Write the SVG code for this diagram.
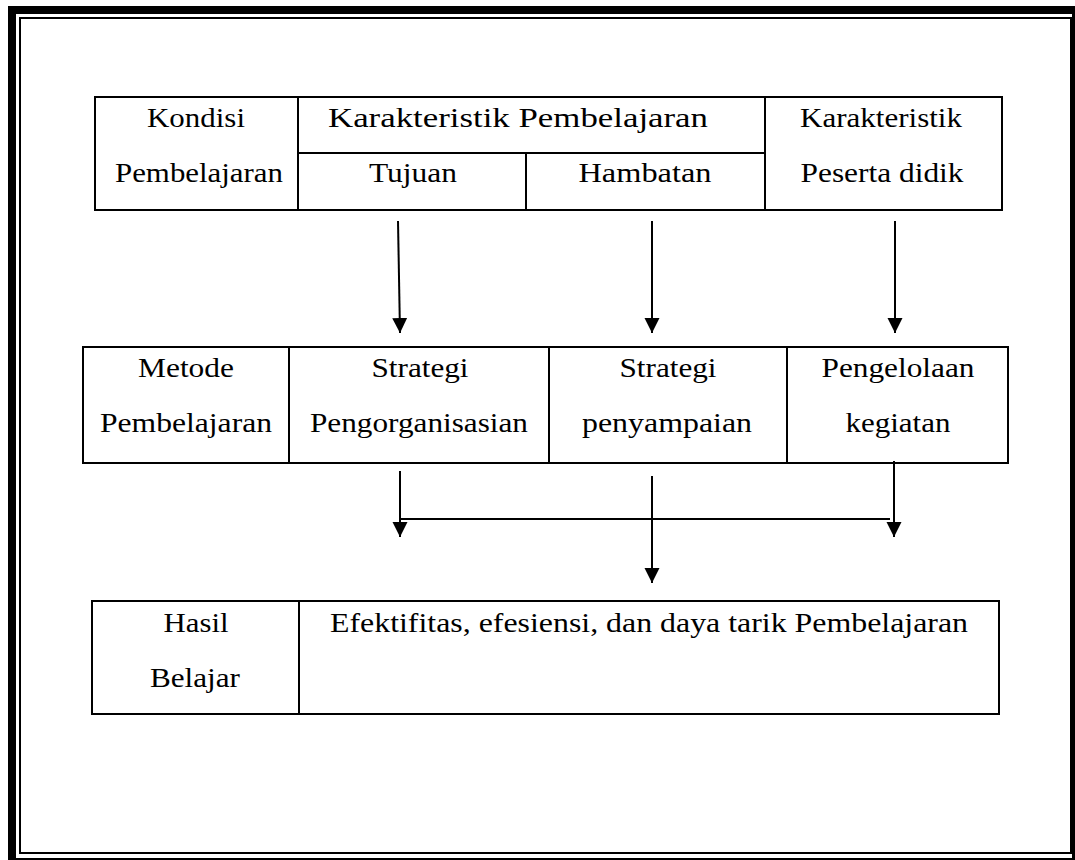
<svg xmlns="http://www.w3.org/2000/svg" width="1075" height="860" viewBox="0 0 1075 860">
<style>
.box{fill:#fff;stroke:#000;stroke-width:2}
.ln{stroke:#000;stroke-width:2;fill:none}
.t{font-family:'Liberation Serif','Times New Roman',serif;font-size:27px;fill:#000;text-anchor:middle}
.conn line{stroke:#000;stroke-width:2;fill:none}
</style>
<defs>
<marker id="ah" markerUnits="userSpaceOnUse" markerWidth="16" markerHeight="16" refX="15" refY="7.5" orient="auto">
<path d="M0,0 L15,7.5 L0,15 z" fill="#000"/>
</marker>
</defs>
<rect width="1075" height="860" fill="#fff"/>
<g id="frame">
<rect x="12" y="10" width="1064" height="852" fill="none" stroke="#000" stroke-width="8"/>
<rect x="20" y="18" width="1051" height="835" fill="none" stroke="#000" stroke-width="2"/>
</g>
<g id="kondisi">
<rect class="box" x="95" y="97" width="907" height="113"/>
<line class="ln" x1="298" y1="97" x2="298" y2="210"/>
<line class="ln" x1="765" y1="97" x2="765" y2="210"/>
<line class="ln" x1="298" y1="153" x2="765" y2="153"/>
<line class="ln" x1="526" y1="153" x2="526" y2="210"/>
<text class="t" x="196" y="127" textLength="98" lengthAdjust="spacingAndGlyphs">Kondisi</text>
<text class="t" x="199" y="182" textLength="168" lengthAdjust="spacingAndGlyphs">Pembelajaran</text>
<text class="t" x="518" y="127" textLength="380" lengthAdjust="spacingAndGlyphs">Karakteristik Pembelajaran</text>
<text class="t" x="413" y="182" textLength="88" lengthAdjust="spacingAndGlyphs">Tujuan</text>
<text class="t" x="645" y="182" textLength="133" lengthAdjust="spacingAndGlyphs">Hambatan</text>
<text class="t" x="881" y="127" textLength="162" lengthAdjust="spacingAndGlyphs">Karakteristik</text>
<text class="t" x="882" y="182" textLength="163" lengthAdjust="spacingAndGlyphs">Peserta didik</text>
</g>
<g id="metode">
<rect class="box" x="83" y="347" width="925" height="116"/>
<line class="ln" x1="289" y1="347" x2="289" y2="463"/>
<line class="ln" x1="549" y1="347" x2="549" y2="463"/>
<line class="ln" x1="787" y1="347" x2="787" y2="463"/>
<text class="t" x="186" y="377" textLength="96" lengthAdjust="spacingAndGlyphs">Metode</text>
<text class="t" x="186" y="432" textLength="172" lengthAdjust="spacingAndGlyphs">Pembelajaran</text>
<text class="t" x="420" y="377" textLength="97" lengthAdjust="spacingAndGlyphs">Strategi</text>
<text class="t" x="419" y="432" textLength="218" lengthAdjust="spacingAndGlyphs">Pengorganisasian</text>
<text class="t" x="668" y="377" textLength="97" lengthAdjust="spacingAndGlyphs">Strategi</text>
<text class="t" x="667" y="432" textLength="170" lengthAdjust="spacingAndGlyphs">penyampaian</text>
<text class="t" x="898" y="377" textLength="153" lengthAdjust="spacingAndGlyphs">Pengelolaan</text>
<text class="t" x="898" y="432" textLength="105" lengthAdjust="spacingAndGlyphs">kegiatan</text>
</g>
<g id="hasil">
<rect class="box" x="92" y="601" width="907" height="113"/>
<line class="ln" x1="299" y1="601" x2="299" y2="714"/>
<text class="t" x="196" y="632" textLength="65" lengthAdjust="spacingAndGlyphs">Hasil</text>
<text class="t" x="195" y="687" textLength="90" lengthAdjust="spacingAndGlyphs">Belajar</text>
<text class="t" x="649" y="632" textLength="638" lengthAdjust="spacingAndGlyphs">Efektifitas, efesiensi, dan daya tarik Pembelajaran</text>
</g>
<g id="connectors" class="conn">
<line x1="398" y1="221" x2="400" y2="333" marker-end="url(#ah)"/>
<line x1="652" y1="221" x2="652" y2="333" marker-end="url(#ah)"/>
<line x1="895" y1="221" x2="895" y2="333" marker-end="url(#ah)"/>
<line x1="400" y1="471" x2="400" y2="537" marker-end="url(#ah)"/>
<line x1="894" y1="461" x2="894" y2="537" marker-end="url(#ah)"/>
<line x1="400" y1="519" x2="890" y2="519"/>
<line x1="652" y1="476" x2="652" y2="583" marker-end="url(#ah)"/>
</g>
</svg>
